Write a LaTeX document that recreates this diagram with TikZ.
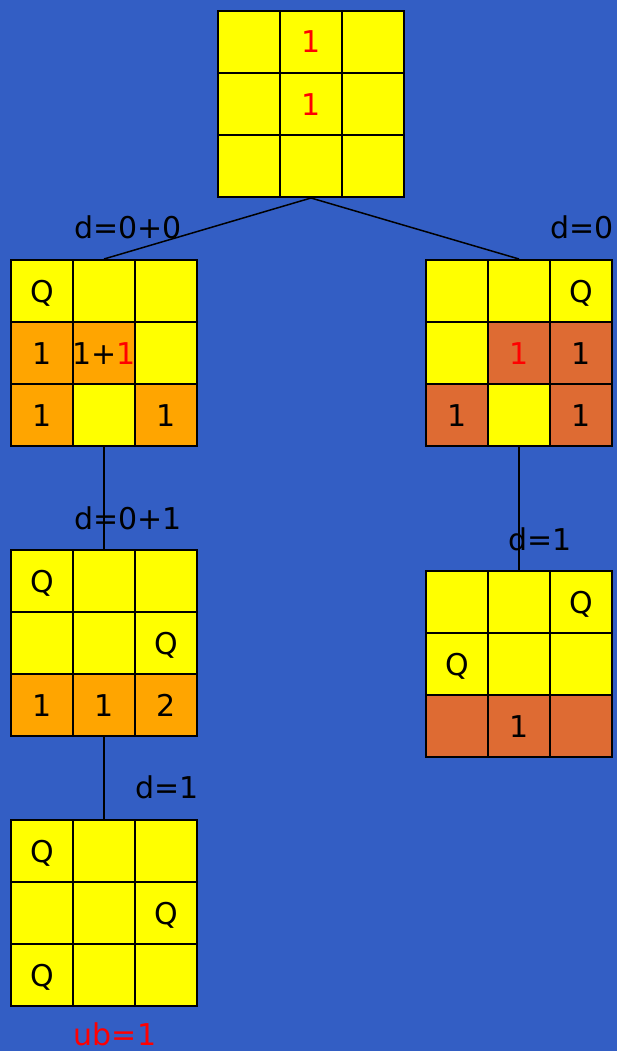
\documentclass[tikz,border=0pt]{standalone}
\usepackage{fontspec}
\setmainfont{DejaVu Sans}
\usetikzlibrary{matrix}
\definecolor{bgblue}{HTML}{335EC4}
\definecolor{qyellow}{HTML}{FFFF00}
\definecolor{qorange}{HTML}{FFA500}
\definecolor{qrust}{HTML}{DE6B33}
\newcommand{\cellfont}{\fontsize{30}{36}\selectfont}
\newcommand{\rd}[1]{\textcolor{red}{#1}}

\tikzset{
  cell/.style={draw=black, line width=2pt, fill=qyellow, minimum size=62pt,
    inner sep=0pt, font=\cellfont, text height=22pt, text depth=0pt},
  org/.style={fill=qorange},
  rust/.style={fill=qrust},
  board/.style={matrix of nodes, nodes in empty cells, inner sep=0pt, outer sep=0pt,
    column sep=-2pt, row sep=-2pt, anchor=north west, nodes={cell}},
  lbl/.style={font=\cellfont, anchor=base, inner sep=0pt},
  link/.style={line width=1.5pt},
}

\begin{document}
\begin{tikzpicture}[x=1pt, y=-1pt]

% Background
\fill[bgblue] (0,0) rectangle (617,1051);

% Root board
\matrix (b1) [board] at (217,10) {
  & \rd{1} & \\
  & \rd{1} & \\
  & & \\
};

% Left branch
\matrix (b2) [board] at (10,259) {
  Q & & \\
  |[org]| 1 & |[org]| \makebox[0pt]{1+\rd{1}} & \\
  |[org]| 1 & & |[org]| 1 \\
};
\matrix (b4) [board] at (10,549) {
  Q & & \\
  & & Q \\
  |[org]| 1 & |[org]| 1 & |[org]| 2 \\
};
\matrix (b6) [board] at (10,819) {
  Q & & \\
  & & Q \\
  Q & & \\
};

% Right branch
\matrix (b3) [board] at (425,259) {
  & & Q \\
  & |[rust]| \rd{1} & |[rust]| 1 \\
  |[rust]| 1 & & |[rust]| 1 \\
};
\matrix (b5) [board] at (425,570) {
  & & Q \\
  Q & & \\
  |[rust]| & |[rust]| 1 & |[rust]| \\
};

% Labels
\node[lbl] (l2) at (128,238) {d=0+0};
\node[lbl] (l3) at (582,238) {d=0};
\node[lbl] (l4) at (128,529) {d=0+1};
\node[lbl] (l5) at (540,550) {d=1};
\node[lbl] (l6) at (167,798) {d=1};
\node[lbl, text=red] (ub) at (115,1045) {ub=1};

% Tree edges
\draw[link] (b1.south) -- (b2.north);
\draw[link] (b1.south) -- (b3.north);
\draw[link] (b2.south) -- (b4.north);
\draw[link] (b3.south) -- (b5.north);
\draw[link] (b4.south) -- (b6.north);

\end{tikzpicture}
\end{document}
